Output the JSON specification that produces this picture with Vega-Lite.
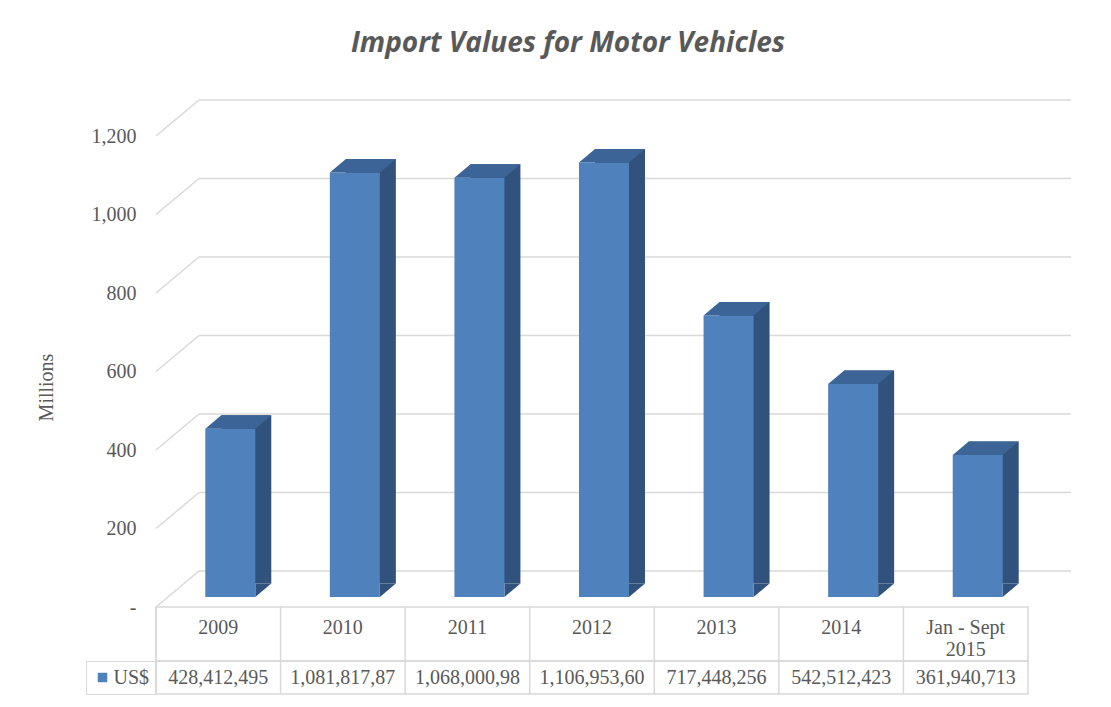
{
  "$schema": "https://vega.github.io/schema/vega-lite/v6.json",
  "background": "white",
  "padding": {"left": 36, "top": 30, "right": 5, "bottom": 5},
  "datasets": {
    "bars": [
      {"cat": "2009", "value": 428.412495, "label": "428,412,495", "series": "US$"},
      {"cat": "2010", "value": 1081.81787, "label": "1,081,817,87", "series": "US$"},
      {"cat": "2011", "value": 1068.00098, "label": "1,068,000,98", "series": "US$"},
      {"cat": "2012", "value": 1106.9536, "label": "1,106,953,60", "series": "US$"},
      {"cat": "2013", "value": 717.448256, "label": "717,448,256", "series": "US$"},
      {"cat": "2014", "value": 542.512423, "label": "542,512,423", "series": "US$"},
      {"cat": "Jan - Sept\n2015", "value": 361.940713, "label": "361,940,713", "series": "US$"}
    ],
    "grid": [
      {"v": 0, "cat": "2009"}, {"v": 200, "cat": "2009"}, {"v": 400, "cat": "2009"}, {"v": 600, "cat": "2009"},
      {"v": 800, "cat": "2009"}, {"v": 1000, "cat": "2009"}, {"v": 1200, "cat": "2009"}
    ]
  },
  "title": {
    "text": "Import Values for Motor Vehicles",
    "font": "Open Sans",
    "fontSize": 28,
    "fontWeight": "bold",
    "fontStyle": "italic",
    "color": "#595959",
    "anchor": "middle",
    "offset": 39,
    "dx": 13
  },
  "config": {
    "view": {"stroke": "#d9d9d9", "strokeWidth": 1.5},
    "font": "Liberation Serif"
  },
  "spacing": 0,
  "bounds": "flush",
  "resolve": {"legend": {"color": "independent"}, "scale": {"color": "independent"}},
  "vconcat": [
    {
      "width": 872,
      "height": 471,
      "view": {"stroke": null},
      "layer": [
        {
          "data": {"name": "grid"},
          "mark": {"type": "point", "shape": "M -1 0 L 1 0", "size": 760384, "filled": false, "stroke": "#d9d9d9", "strokeWidth": 1.5, "opacity": 1, "xOffset": 416.7, "yOffset": -36},
          "encoding": {
            "x": {"field": "cat", "type": "nominal", "sort": null, "scale": {"paddingInner": 0, "paddingOuter": 0}, "axis": null},
            "y": {
              "field": "v", "type": "quantitative",
              "scale": {"domain": [0, 1200], "nice": false},
              "axis": {
                "values": [0, 200, 400, 600, 800, 1000, 1200],
                "labelExpr": "datum.value === 0 ? '-\u00a0\u00a0' : format(datum.value, ',')",
                "title": "Millions",
                "titleFont": "Liberation Serif",
                "titleFontSize": 20,
                "titleFontWeight": "normal",
                "titleColor": "#595959",
                "titlePadding": 35,
                "titleY": 251,
                "labelFont": "Liberation Serif",
                "labelFontSize": 20,
                "labelColor": "#595959",
                "labelPadding": 20,
                "ticks": false,
                "domain": false,
                "grid": false
              }
            }
          }
        },
        {
          "data": {"name": "grid"},
          "mark": {"type": "point", "shape": "M -1 0.8372 L 1 -0.8372", "size": 1849, "filled": false, "stroke": "#d9d9d9", "strokeWidth": 1.5, "opacity": 1, "xOffset": -40.8, "yOffset": -18},
          "encoding": {
            "x": {"field": "cat", "type": "nominal", "sort": null, "axis": null},
            "y": {"field": "v", "type": "quantitative", "axis": {"title": "Millions"}}
          }
        },
        {
          "data": {"name": "bars"},
          "mark": {"type": "bar", "width": 50, "color": "#31527c", "xOffset": 28, "yOffset": -23.5, "y2Offset": -23.5},
          "encoding": {
            "x": {"field": "cat", "type": "nominal", "sort": null, "axis": null},
            "y": {"field": "value", "type": "quantitative", "axis": {"title": "Millions"}}
          }
        },
        {
          "data": {"name": "bars"},
          "mark": {"type": "point", "shape": "M -1 0.84375 L 1 -0.84375 L -1 -0.84375 Z", "size": 256, "filled": true, "color": "#31527c", "strokeWidth": 0, "opacity": 1, "xOffset": 45, "yOffset": -16.75},
          "encoding": {
            "x": {"field": "cat", "type": "nominal", "sort": null, "axis": null},
            "y": {"datum": 0, "type": "quantitative", "title": "Millions", "axis": {"title": "Millions"}}
          }
        },
        {
          "data": {"name": "bars"},
          "mark": {"type": "bar", "width": 50, "color": "#4f81bd", "xOffset": 12, "yOffset": -10, "y2Offset": -10},
          "encoding": {
            "x": {"field": "cat", "type": "nominal", "sort": null, "axis": null},
            "y": {"field": "value", "type": "quantitative", "axis": {"title": "Millions"}}
          }
        },
        {
          "data": {"name": "bars"},
          "mark": {"type": "point", "shape": "M -1.32 0.27 L 0.68 0.27 L 1.32 -0.27 L -0.68 -0.27 Z", "size": 2500, "filled": true, "color": "#3d6496", "strokeWidth": 0, "opacity": 1, "xOffset": 20, "yOffset": -16.75},
          "encoding": {
            "x": {"field": "cat", "type": "nominal", "sort": null, "axis": null},
            "y": {"field": "value", "type": "quantitative", "axis": {"title": "Millions"}}
          }
        }
      ]
    },
    {
      "width": 872,
      "height": 54,
      "data": {"name": "bars"},
      "layer": [
        {
          "mark": {"type": "rule", "color": "#d9d9d9", "strokeWidth": 1.5},
          "encoding": {
            "x": {"field": "cat", "type": "nominal", "sort": null, "bandPosition": 0, "scale": {"paddingInner": 0, "paddingOuter": 0}, "axis": null}
          }
        },
        {
          "mark": {"type": "text", "font": "Liberation Serif", "fontSize": 20, "color": "#595959", "baseline": "top", "dy": -16, "lineBreak": "\n", "lineHeight": 22},
          "encoding": {
            "x": {"field": "cat", "type": "nominal", "sort": null, "axis": null},
            "text": {"field": "cat"}
          }
        }
      ]
    },
    {
      "width": 872,
      "height": 33,
      "data": {"name": "bars"},
      "layer": [
        {
          "mark": {"type": "rule", "color": "#d9d9d9", "strokeWidth": 1.5},
          "encoding": {
            "x": {"field": "cat", "type": "nominal", "sort": null, "bandPosition": 0, "scale": {"paddingInner": 0, "paddingOuter": 0}, "axis": null}
          }
        },
        {
          "mark": {"type": "square", "opacity": 0},
          "encoding": {
            "x": {"field": "cat", "type": "nominal", "sort": null, "axis": null},
            "color": {
              "field": "series", "type": "nominal",
              "scale": {"range": ["#4f81bd"]},
              "legend": {
                "orient": "left",
                "title": null,
                "offset": 0,
                "padding": 6.5,
                "strokeColor": "#d9d9d9",
                "symbolType": "square",
                "symbolSize": 90,
                "symbolOpacity": 1,
                "symbolStrokeWidth": 0,
                "labelFont": "Liberation Serif",
                "labelFontSize": 20,
                "labelColor": "#595959",
                "labelOffset": 1
              }
            }
          }
        },
        {
          "mark": {"type": "text", "font": "Liberation Serif", "fontSize": 20, "color": "#595959"},
          "encoding": {
            "x": {"field": "cat", "type": "nominal", "sort": null, "axis": null},
            "text": {"field": "label"}
          }
        }
      ]
    }
  ]
}
